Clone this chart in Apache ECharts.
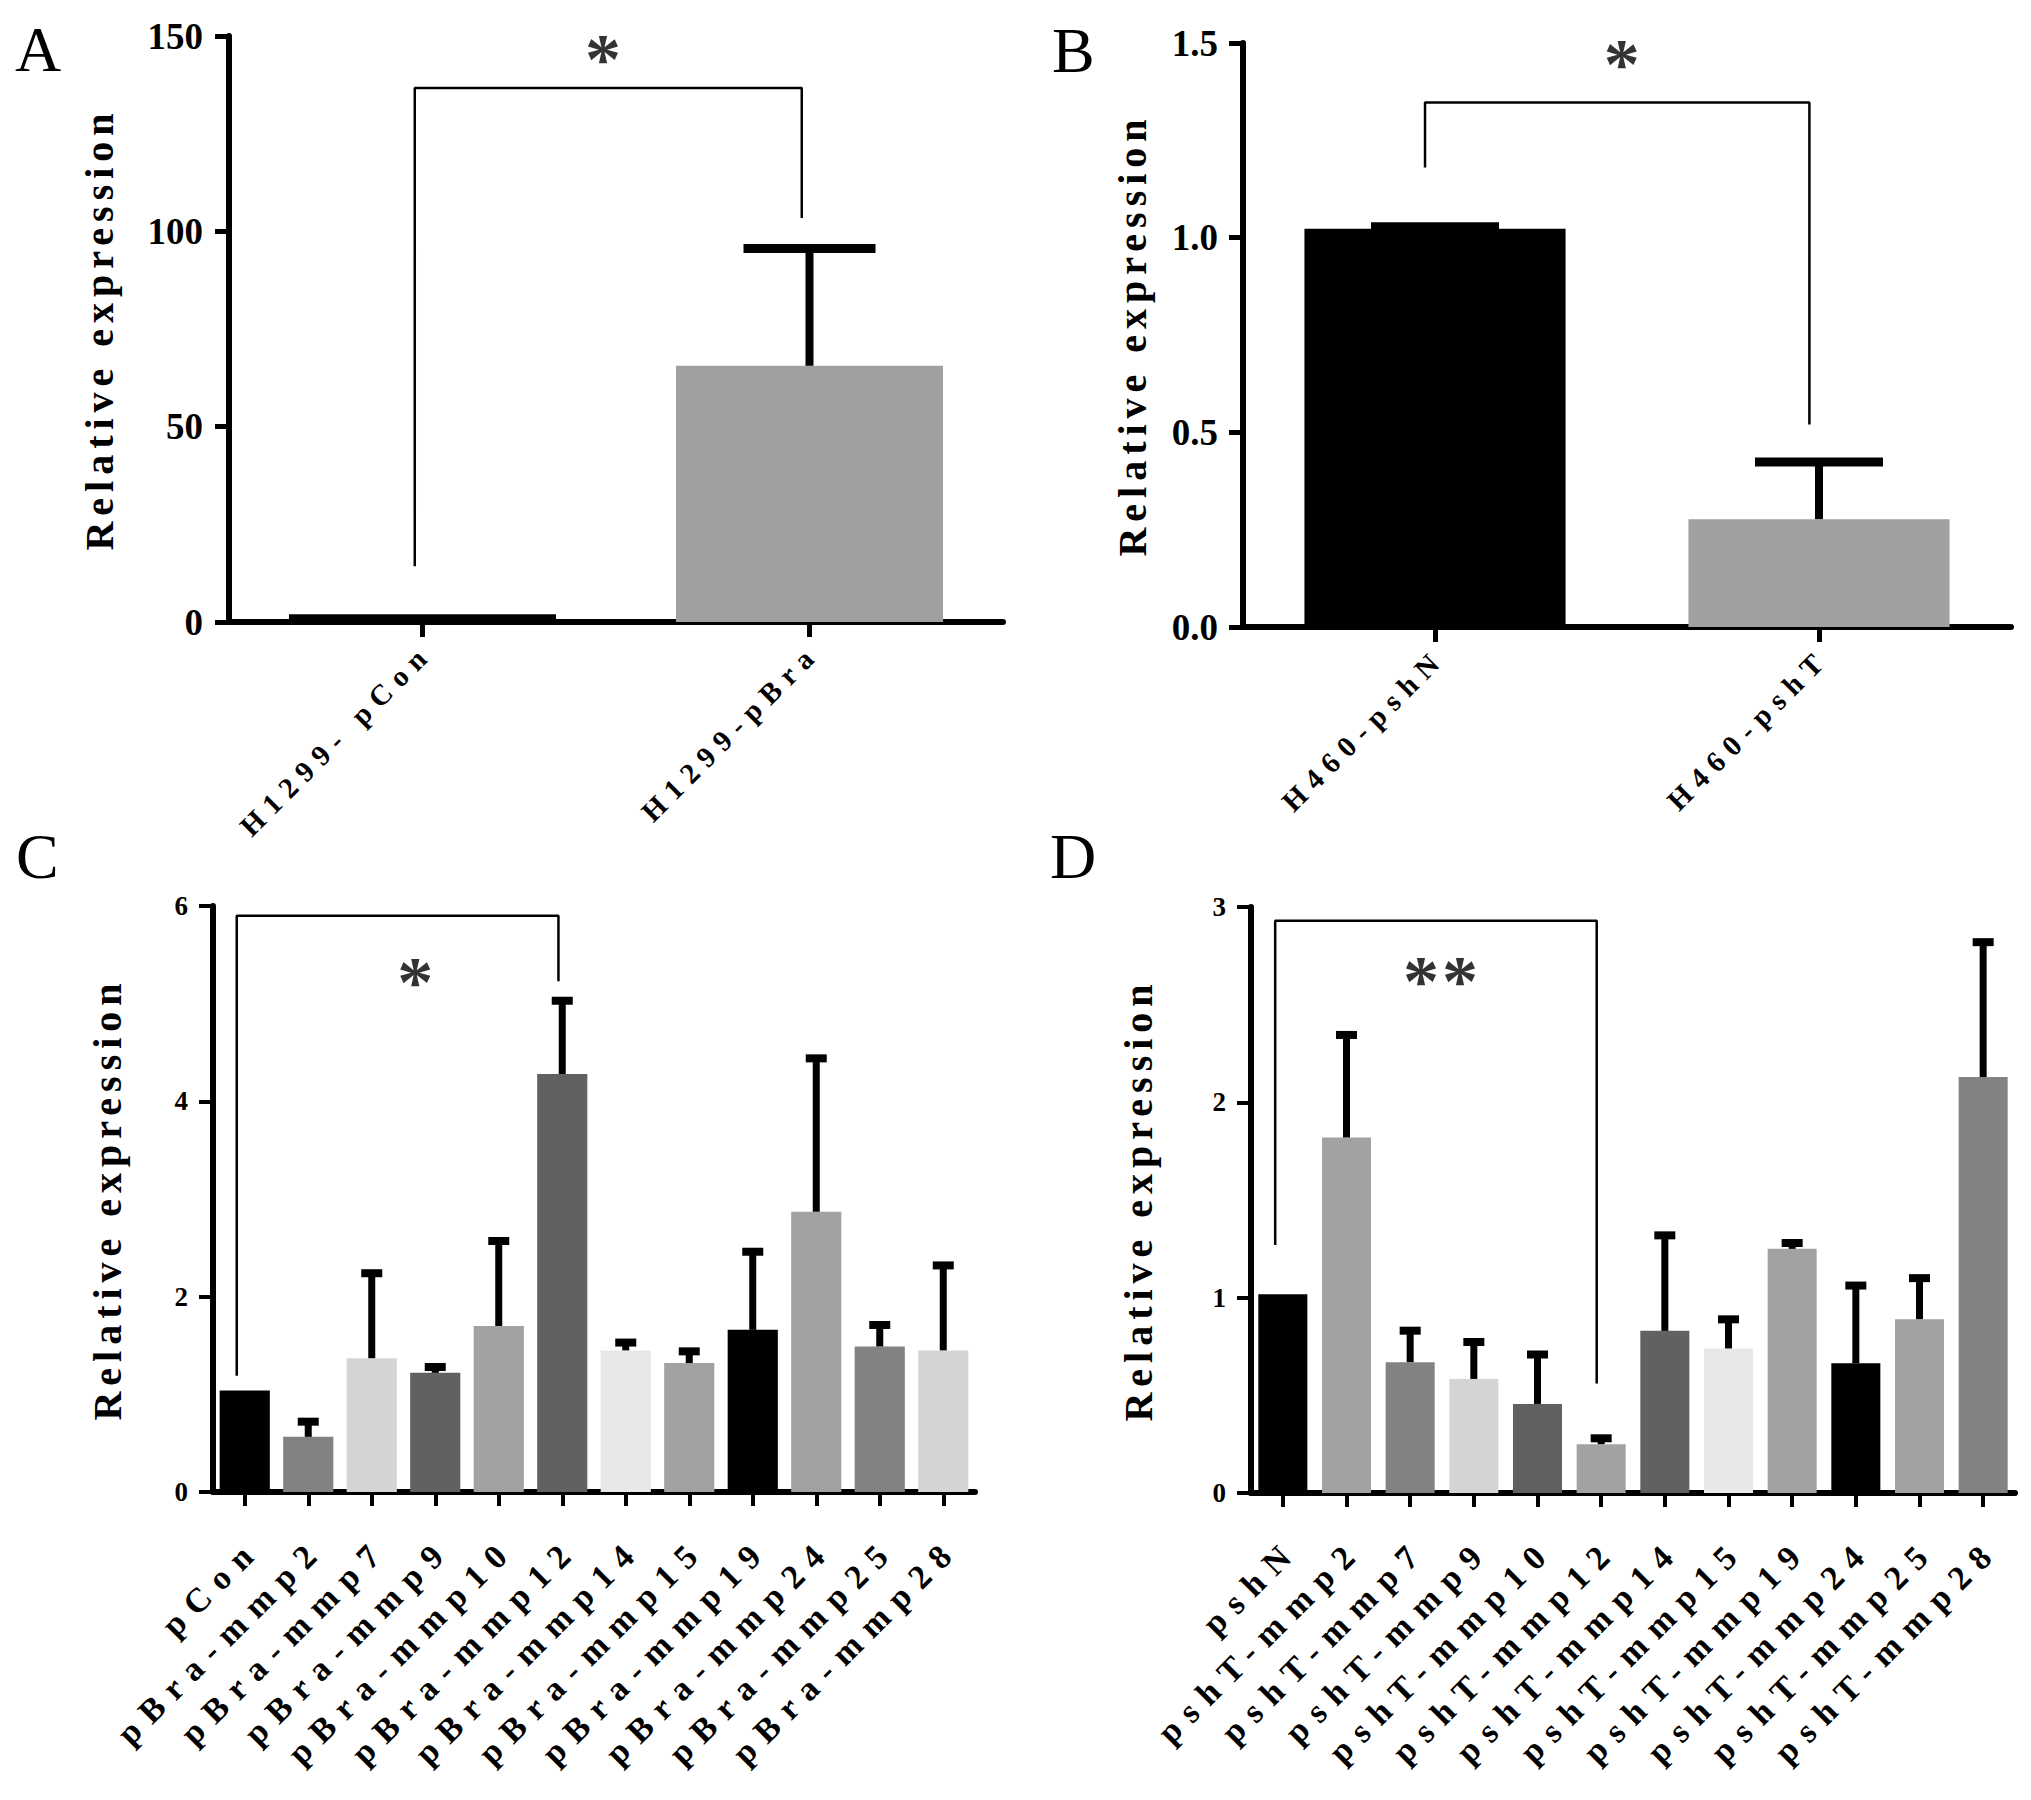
<!DOCTYPE html>
<html><head><meta charset="utf-8">
<script src="https://cdn.jsdelivr.net/npm/echarts@6/dist/echarts.min.js"></script>
<style>
html,body{margin:0;padding:0;background:#fff;}
#chart{width:2031px;height:1800px;}
#chart text[style*="40px"]{letter-spacing:6px;}
#chart text[style*="29px"]{letter-spacing:8.5px;}
#chart text[style*="34px"]{letter-spacing:11px;}
#chart text[style*="72px"]{letter-spacing:3px;}
</style></head><body><div id="chart"></div>
<script>
// ---- Panel A ----
const catsA = ['H1299- pCon', 'H1299-pBra'];
const valsA = [2, 65.6];
const errA = [null, 95.6];
const colorsA = ['#000000', '#a0a0a0'];
const ticksA = [0, 50, 100, 150];
const bracketAx = [-0.02, -0.02, 0.98, 0.98];
const bracketAy = [14.3, 136.7, 136.7, 103.4];
const starA = [0.47, 144];

// ---- Panel B ----
const catsB = ['H460-pshN', 'H460-pshT'];
const valsB = [1.023, 0.277];
const errB = [1.028, 0.424];
const colorsB = ['#000000', '#a0a0a0'];
const ticksB = [0, 0.5, 1.0, 1.5];
const bracketBx = [-0.026, -0.026, 0.975, 0.975];
const bracketBy = [1.18, 1.347, 1.347, 0.52];
const starB = [0.49, 1.445];

// ---- Panel C ----
const catsC = ['pCon', 'pBra-mmp2', 'pBra-mmp7', 'pBra-mmp9', 'pBra-mmp10', 'pBra-mmp12',
  'pBra-mmp14', 'pBra-mmp15', 'pBra-mmp19', 'pBra-mmp24', 'pBra-mmp25', 'pBra-mmp28'];
const valsC = [1.04, 0.565, 1.37, 1.22, 1.70, 4.28, 1.45, 1.32, 1.66, 2.87, 1.49, 1.45];
const errC = [null, 0.72, 2.24, 1.28, 2.57, 5.03, 1.53, 1.44, 2.46, 4.44, 1.71, 2.32];
const colorsC = ['#000000', '#828282', '#d4d4d4', '#616161', '#a2a2a2', '#616161',
  '#e8e8e8', '#a2a2a2', '#000000', '#a2a2a2', '#828282', '#d4d4d4'];
const ticksC = [0, 2, 4, 6];
const bracketCx = [-0.126, -0.126, 4.94, 4.94];
const bracketCy = [1.19, 5.9, 5.9, 5.23];
const starC = [2.71, 5.22];

// ---- Panel D ----
const catsD = ['pshN', 'pshT-mmp2', 'pshT-mmp7', 'pshT-mmp9', 'pshT-mmp10', 'pshT-mmp12',
  'pshT-mmp14', 'pshT-mmp15', 'pshT-mmp19', 'pshT-mmp24', 'pshT-mmp25', 'pshT-mmp28'];
const valsD = [1.017, 1.82, 0.67, 0.584, 0.456, 0.25, 0.83, 0.74, 1.25, 0.664, 0.89, 2.13];
const errD = [null, 2.345, 0.831, 0.773, 0.709, 0.28, 1.319, 0.889, 1.28, 1.062, 1.10, 2.82];
const colorsD = ['#000000', '#a2a2a2', '#828282', '#d4d4d4', '#616161', '#a2a2a2',
  '#616161', '#e8e8e8', '#a2a2a2', '#000000', '#a2a2a2', '#828282'];
const ticksD = [0, 1, 2, 3];
const bracketDx = [-0.12, -0.12, 4.93, 4.93];
const bracketDy = [1.27, 2.93, 2.93, 0.56];
const starD = [2.5, 2.62];

const FONT = 'Liberation Serif';
const YNAME = 'Relative expression';

const panels = [
  {cats: catsA, vals: valsA, err: errA, colors: colorsA, ticks: ticksA, bx: bracketAx, by: bracketAy, star: starA, starText: '*',
   grid: {left: 229, top: 36, width: 774, height: 586}, gap: '31%', xFont: 29, xMargin: 31, xPad: [0, -7, 0, 0],
   yFont: 37, yMargin: 26, yPad: [10, 0, 0, 0], nameGap: 110,
   lw: 6, tickW: 5, tickLen: 15, capW: 132, errLw: 8, capH: 9, dec: 0},
  {cats: catsB, vals: valsB, err: errB, colors: colorsB, ticks: ticksB, bx: bracketBx, by: bracketBy, star: starB, starText: '*',
   grid: {left: 1243, top: 43, width: 768, height: 584}, gap: '32%', xFont: 29, xMargin: 31, xPad: [0, -7, 0, 0],
   yFont: 37, yMargin: 25, yPad: [10, 0, 0, 0], nameGap: 91,
   lw: 6, tickW: 5, tickLen: 15, capW: 128, errLw: 8, capH: 9, dec: 1},
  {cats: catsC, vals: valsC, err: errC, colors: colorsC, ticks: ticksC, bx: bracketCx, by: bracketCy, star: starC, starText: '*',
   grid: {left: 213, top: 906, width: 762, height: 586}, gap: '21%', xFont: 34, xMargin: 61, xPad: [0, -14, 0, 0],
   yFont: 27, yMargin: 25, yPad: [14, 0, 0, 0], nameGap: 86,
   lw: 6, tickW: 4, tickLen: 14, capW: 21, errLw: 7, capH: 8, dec: 0},
  {cats: catsD, vals: valsD, err: errD, colors: colorsD, ticks: ticksD, bx: bracketDx, by: bracketDy, star: starD, starText: '**',
   grid: {left: 1251, top: 907, width: 764, height: 586}, gap: '23%', xFont: 34, xMargin: 61, xPad: [0, -14, 0, 0],
   yFont: 27, yMargin: 25, yPad: [14, 0, 0, 0], nameGap: 93,
   lw: 6, tickW: 4, tickLen: 14, capW: 21, errLw: 7, capH: 8, dec: 0}
];

function errRender(capW, lw, capH) {
  return function (params, api) {
    const i = api.value(0), v = api.value(1), e = api.value(2);
    const p0 = api.coord([i, v]);
    const p1 = api.coord([i, e]);
    return {
      type: 'group',
      children: [
        {type: 'line', shape: {x1: p0[0], y1: p0[1], x2: p1[0], y2: p1[1]}, style: {stroke: '#000', lineWidth: lw}},
        {type: 'line', shape: {x1: p1[0] - capW / 2, y1: p1[1], x2: p1[0] + capW / 2, y2: p1[1]}, style: {stroke: '#000', lineWidth: capH}}
      ]
    };
  };
}

const grids = [], xAxes = [], yAxes = [], series = [];
panels.forEach((p, g) => {
  grids.push(Object.assign({containLabel: false}, p.grid));
  xAxes[g] = {
    type: 'category', gridIndex: g, data: p.cats,
    axisLine: {show: true, onZero: false, lineStyle: {color: '#000', width: p.lw}},
    axisTick: {show: true, alignWithLabel: true, length: p.tickLen, lineStyle: {color: '#000', width: p.tickW}},
    axisLabel: {rotate: 45, interval: 0, margin: p.xMargin, padding: p.xPad, color: '#000', fontFamily: FONT, fontWeight: 'bold', fontSize: p.xFont},
    splitLine: {show: false}
  };
  xAxes[g + 4] = {type: 'value', gridIndex: g, min: -0.5, max: p.cats.length - 0.5, show: false};
  const mx = p.ticks[p.ticks.length - 1];
  yAxes[g] = {
    type: 'value', gridIndex: g, min: p.ticks[0], max: mx, interval: p.ticks[1] - p.ticks[0],
    axisLine: {show: true, onZero: false, lineStyle: {color: '#000', width: p.lw}},
    axisTick: {show: true, length: 14, lineStyle: {color: '#000', width: p.tickW}},
    splitLine: {show: false},
    axisLabel: {margin: p.yMargin, padding: p.yPad, color: '#000', fontFamily: FONT, fontWeight: 'bold', fontSize: p.yFont,
      formatter: (v) => v.toFixed(p.dec)},
    name: YNAME, nameLocation: 'middle', nameGap: p.nameGap,
    nameTextStyle: {color: '#000', fontFamily: FONT, fontWeight: 'bold', fontSize: 40}
  };
  series.push({
    type: 'bar', xAxisIndex: g, yAxisIndex: g, barCategoryGap: p.gap, z: 2,
    data: p.vals.map((v, k) => ({value: v, itemStyle: {color: p.colors[k]}}))
  });
  series.push({
    type: 'custom', xAxisIndex: g, yAxisIndex: g, z: 3,
    renderItem: errRender(p.capW, p.errLw, p.capH),
    encode: {x: 0, y: 1},
    data: p.vals.map((v, k) => [k, v, p.err[k]]).filter(d => d[2] !== null)
  });
  series.push({
    type: 'line', xAxisIndex: g + 4, yAxisIndex: g, symbol: 'none', z: 4,
    lineStyle: {color: '#000', width: 2.5},
    data: p.bx.map((x, k) => [x, p.by[k]])
  });
  series.push({
    type: 'scatter', xAxisIndex: g + 4, yAxisIndex: g, symbolSize: 0, z: 5,
    label: {show: true, position: 'inside', formatter: p.starText, color: '#000', fontFamily: FONT, fontWeight: 'bold', fontSize: 72},
    data: [p.star]
  });
});

const letterFont = '64px ' + FONT;
const option = {
  animation: false,
  backgroundColor: '#fff',
  grid: grids,
  xAxis: xAxes,
  yAxis: yAxes,
  series: series,
  graphic: [
    {type: 'text', x: 15, y: 49, style: {text: 'A', font: letterFont, fill: '#000', verticalAlign: 'middle'}},
    {type: 'text', x: 1052, y: 50, style: {text: 'B', font: letterFont, fill: '#000', verticalAlign: 'middle'}},
    {type: 'text', x: 16, y: 856, style: {text: 'C', font: letterFont, fill: '#000', verticalAlign: 'middle'}},
    {type: 'text', x: 1050, y: 856, style: {text: 'D', font: letterFont, fill: '#000', verticalAlign: 'middle'}}
  ]
};
const chart = echarts.init(document.getElementById('chart'), null, {renderer: 'svg', width: 2031, height: 1800});
chart.setOption(option);
</script>
</body></html>
